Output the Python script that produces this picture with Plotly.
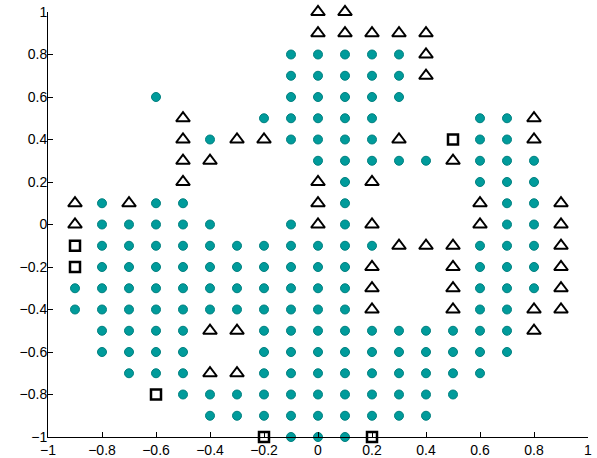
import plotly.graph_objects as go

# Teal circles (x, y)
circle_x = [
    -0.1, 0, 0.1, 0.2, 0.3,
    -0.1, 0, 0.1, 0.2, 0.3,
    -0.6, -0.1, 0, 0.1, 0.2, 0.3,
    -0.2, -0.1, 0, 0.1, 0.2, 0.6, 0.7,
    -0.4, -0.1, 0, 0.1, 0.2, 0.6, 0.7,
    0, 0.1, 0.2, 0.3, 0.4, 0.6, 0.7, 0.8,
    0.1, 0.6, 0.7, 0.8,
    -0.8, -0.6, -0.5, 0.1, 0.7, 0.8,
    -0.8, -0.7, -0.6, -0.5, -0.4, -0.1, 0.1, 0.7, 0.8,
    -0.8, -0.7, -0.6, -0.5, -0.4, -0.3, -0.2, -0.1, 0, 0.1, 0.2, 0.6, 0.7, 0.8,
    -0.8, -0.7, -0.6, -0.5, -0.4, -0.3, -0.2, -0.1, 0, 0.1, 0.6, 0.7, 0.8,
    -0.9, -0.8, -0.7, -0.6, -0.5, -0.4, -0.3, -0.2, -0.1, 0, 0.1, 0.6, 0.7, 0.8,
    -0.9, -0.8, -0.7, -0.6, -0.5, -0.4, -0.3, -0.2, -0.1, 0, 0.1, 0.6, 0.7,
    -0.8, -0.7, -0.6, -0.5, -0.2, -0.1, 0, 0.1, 0.2, 0.3, 0.4, 0.5, 0.6, 0.7,
    -0.8, -0.7, -0.6, -0.5, -0.2, -0.1, 0, 0.1, 0.2, 0.3, 0.4, 0.5, 0.6, 0.7,
    -0.7, -0.6, -0.5, -0.2, -0.1, 0, 0.1, 0.2, 0.3, 0.4, 0.5, 0.6,
    -0.5, -0.4, -0.3, -0.2, -0.1, 0, 0.1, 0.2, 0.3, 0.4, 0.5,
    -0.4, -0.3, -0.2, -0.1, 0, 0.1, 0.2, 0.3, 0.4,
    -0.1, 0, 0.1,
]
circle_y = (
    [0.8] * 5 + [0.7] * 5 + [0.6] * 6 + [0.5] * 7 + [0.4] * 7 + [0.3] * 8
    + [0.2] * 4 + [0.1] * 6 + [0.0] * 9 + [-0.1] * 14 + [-0.2] * 13
    + [-0.3] * 14 + [-0.4] * 13 + [-0.5] * 14 + [-0.6] * 14 + [-0.7] * 12
    + [-0.8] * 11 + [-0.9] * 9 + [-1.0] * 3
)

# Open triangles
tri_x = [
    0, 0.1,
    0, 0.1, 0.2, 0.3, 0.4,
    0.4,
    0.4,
    -0.5, 0.8,
    -0.5, -0.3, -0.2, 0.3, 0.8,
    -0.5, -0.4, 0.5,
    -0.5, 0, 0.2,
    -0.9, -0.7, 0, 0.6, 0.9,
    -0.9, 0, 0.2, 0.6, 0.9,
    0.3, 0.4, 0.5, 0.9,
    0.2, 0.5, 0.9,
    0.2, 0.5, 0.9,
    0.2, 0.5, 0.8, 0.9,
    -0.4, -0.3, 0.8,
    -0.4, -0.3,
]
tri_y = (
    [1.0] * 2 + [0.9] * 5 + [0.8] + [0.7] + [0.5] * 2 + [0.4] * 5 + [0.3] * 3
    + [0.2] * 3 + [0.1] * 5 + [0.0] * 5 + [-0.1] * 4 + [-0.2] * 3
    + [-0.3] * 3 + [-0.4] * 4 + [-0.5] * 3 + [-0.7] * 2
)

# Open squares
sq_x = [0.5, -0.9, -0.9, -0.6, -0.2, 0.2]
sq_y = [0.4, -0.1, -0.2, -0.8, -1.0, -1.0]

tick_vals = [-1, -0.8, -0.6, -0.4, -0.2, 0, 0.2, 0.4, 0.6, 0.8, 1]
tick_text = ["\u22121", "\u22120.8", "\u22120.6", "\u22120.4", "\u22120.2", "0",
             "0.2", "0.4", "0.6", "0.8", "1"]

fig = go.Figure()
fig.add_trace(go.Scatter(
    x=circle_x, y=circle_y, mode="markers", cliponaxis=False,
    marker=dict(symbol="circle", size=9, color="#009B9B",
                line=dict(color="#00807F", width=1)),
))
fig.add_trace(go.Scatter(
    x=tri_x, y=tri_y, mode="markers", cliponaxis=False,
    marker=dict(symbol="triangle-up-open", size=12, color="black",
                line=dict(color="black", width=2)),
))
fig.add_trace(go.Scatter(
    x=sq_x, y=sq_y, mode="markers", cliponaxis=False,
    marker=dict(symbol="square-open", size=10, color="black",
                line=dict(color="black", width=2.5)),
))

axis_common = dict(
    tickvals=tick_vals, ticktext=tick_text, ticks="inside", ticklen=5,
    tickcolor="black", showline=True, linecolor="black", linewidth=1,
    showgrid=False, zeroline=False, mirror=False, automargin=False,
    tickfont=dict(family="Liberation Sans, Arial, sans-serif", size=14, color="black"),
)
fig.update_xaxes(range=[-1, 1], **axis_common)
fig.update_yaxes(range=[-1, 1], ticklabelstandoff=-3, **axis_common)

fig.update_layout(
    width=597, height=458,
    margin=dict(l=48, r=9, t=12, b=21, autoexpand=False),
    paper_bgcolor="white", plot_bgcolor="white",
    showlegend=False,
)

fig.write_html(
    "out.html",
    config={"displayModeBar": False},
    post_script="document.body.style.margin='0';document.body.style.padding='0';",
)
